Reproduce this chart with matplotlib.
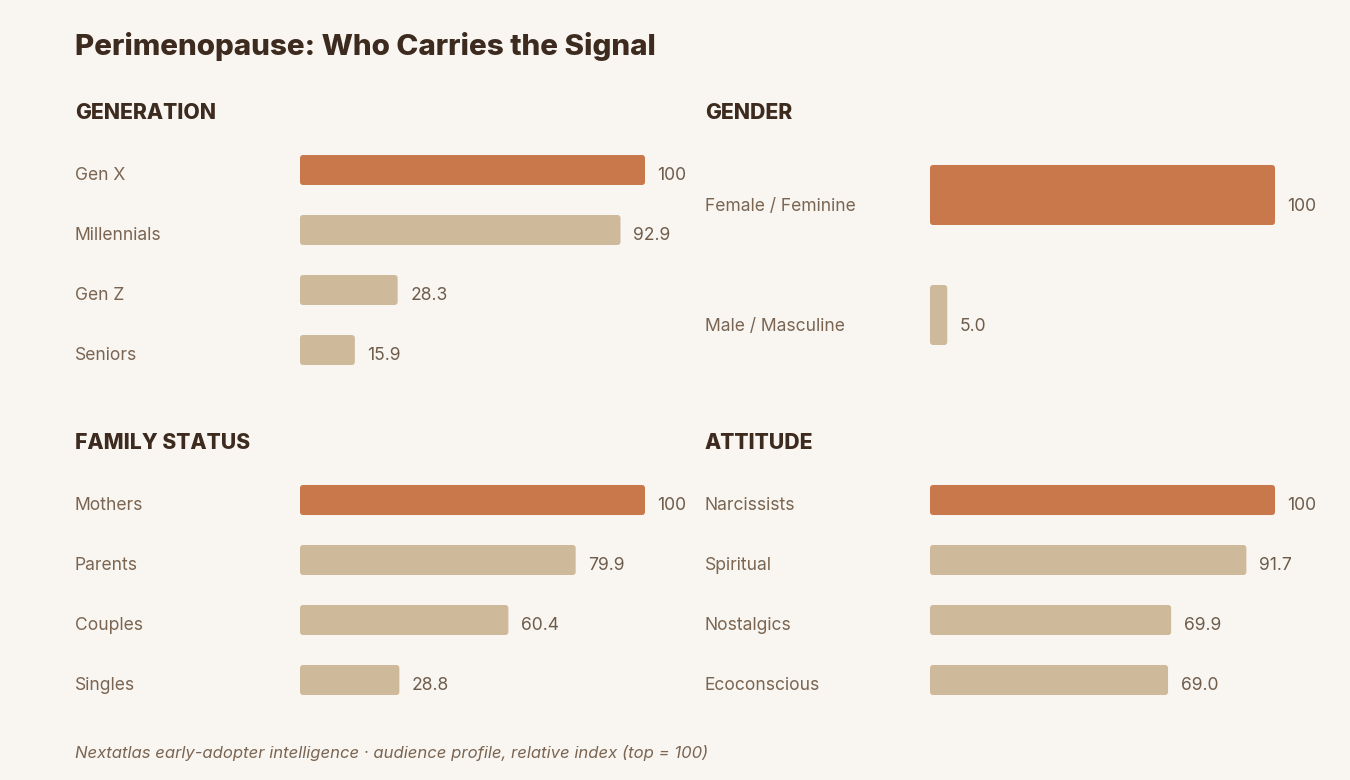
import matplotlib
matplotlib.use("Agg")
import matplotlib.pyplot as plt
from matplotlib.patches import FancyBboxPatch
from matplotlib.transforms import blended_transform_factory

# data
gen_labels = ["Gen X", "Millennials", "Gen Z", "Seniors"]
gen_values = [100, 92.9, 28.3, 15.9]
gender_labels = ["Female / Feminine", "Male / Masculine"]
gender_values = [100, 5.0]
family_labels = ["Mothers", "Parents", "Couples", "Singles"]
family_values = [100, 79.9, 60.4, 28.8]
attitude_labels = ["Narcissists", "Spiritual", "Nostalgics", "Ecoconscious"]
attitude_values = [100, 91.7, 69.9, 69.0]

BG = "#F9F6F1"
TOP = "#C8784A"
REST = "#CFB99B"
DARK = "#3D2B1F"
MUTED = "#7A6552"
VALC = "#6E5C4B"

plt.rcParams['font.family'] = ['Inter', 'DejaVu Sans']

W, H = 1350, 780
fig = plt.figure(figsize=(W / 100, H / 100), dpi=100, facecolor=BG)


def px_axes(left, top, width, height):
    return fig.add_axes([left / W, 1 - (top + height) / H, width / W, height / H])


def panel(title, labels, values, bar_left, label_x, top, bottom, head_y, text_drop):
    fig.text(label_x / W, 1 - head_y / H, title,
             fontsize=15.2, fontweight='heavy', color=DARK, va='baseline', ha='left')
    ax = px_axes(bar_left, top, 345, bottom - top)
    ax.set_facecolor('none')
    n = len(labels)
    ypos = list(range(n))
    colors = [TOP if v == max(values) else REST for v in values]
    bars = ax.barh(ypos, values, height=0.5, color=colors)
    ax.set_xlim(0, 100)
    ax.set_ylim(n - 0.5, -0.5)
    # swap plain rectangles for rounded ones
    x_per_px = 100 / 345
    y_per_px = n / (bottom - top)
    for b, c in zip(bars, colors):
        x0, y0 = b.get_x(), b.get_y()
        w, h = b.get_width(), b.get_height()
        b.set_visible(False)
        ax.add_patch(FancyBboxPatch((x0, y0), w, h,
                                    boxstyle=f"round,pad=0,rounding_size={3 * x_per_px}",
                                    mutation_aspect=y_per_px / x_per_px,
                                    facecolor=c, edgecolor='none'))
    trans = blended_transform_factory(fig.transFigure, ax.transData)
    dy = -text_drop * 0.72  # px -> points
    for y, lab, v in zip(ypos, labels, values):
        ax.annotate(lab, (label_x / W, y), xycoords=trans, xytext=(0, dy),
                    textcoords='offset points', fontsize=12.6, color=MUTED,
                    va='baseline', ha='left')
        txt = "100" if v == 100 else f"{v:.1f}"
        ax.annotate(txt, (v, y), xytext=(9, dy), textcoords='offset points',
                    fontsize=12.6, color=VALC, va='baseline', ha='left')
    ax.axis('off')
    return ax


fig.text(75 / W, 1 - 55 / H, "Perimenopause: Who Carries the Signal", fontsize=21.3,
         fontweight='heavy', color=DARK, va='baseline', ha='left')

panel("GENERATION", gen_labels, gen_values, 300, 75, 140, 380, 119, 10)
panel("GENDER", gender_labels, gender_values, 930, 705, 135, 375, 119, 16)
panel("FAMILY STATUS", family_labels, family_values, 300, 75, 470, 710, 449, 10)
panel("ATTITUDE", attitude_labels, attitude_values, 930, 705, 470, 710, 449, 10)

fig.text(75 / W, 1 - 758 / H,
         "Nextatlas early-adopter intelligence \u00b7 audience profile, relative index (top = 100)",
         fontsize=12.0, style='italic', color=MUTED, va='baseline', ha='left')

fig.savefig("out.png", dpi=100, facecolor=BG)
